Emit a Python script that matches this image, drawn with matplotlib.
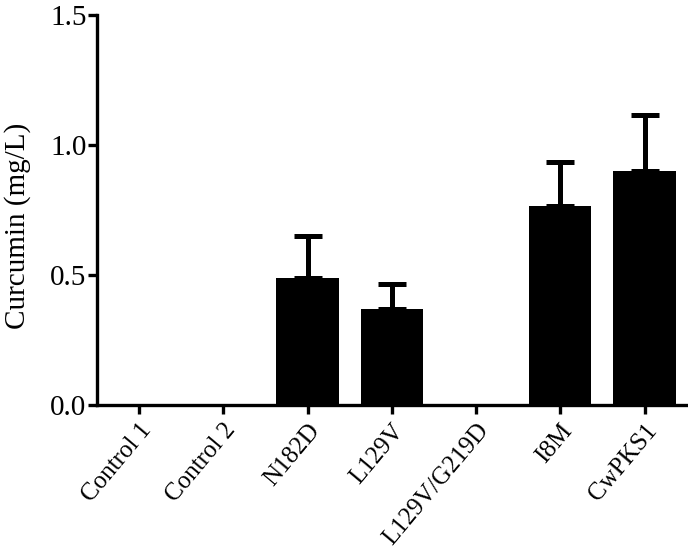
import matplotlib
matplotlib.use("Agg")
import matplotlib.pyplot as plt
import numpy as np

samples = ["Control 1", "Control 2", "N182D", "L129V", "L129V/G219D", "I8M", "CwPKS1"]
curcumin = [0.0, 0.0, 0.487, 0.369, 0.0, 0.763, 0.900]
sd = [0.0, 0.0, 0.163, 0.095, 0.0, 0.169, 0.215]

plt.rcParams['font.family'] = ['Liberation Serif', 'DejaVu Serif']

fig = plt.figure(figsize=(6.88, 5.54), dpi=100)
ax = fig.add_axes([0.141, 0.269, 0.857, 0.7045])

x = np.arange(len(samples))
ax.bar(x, curcumin, width=0.74, color='black', linewidth=0, zorder=2)

has_err = np.array(sd) > 0
ax.errorbar(x[has_err], np.array(curcumin)[has_err],
            yerr=[np.zeros(has_err.sum()), np.array(sd)[has_err]],
            fmt='none', ecolor='black', elinewidth=3.6, capsize=10, capthick=3.6, zorder=3)

ax.set_xlim(-0.5, 6.5)
ax.set_ylim(0, 1.5)
ax.set_yticks([0.0, 0.5, 1.0, 1.5])
ax.set_yticklabels(["0.0", "0.5", "1.0", "1.5"])
ax.set_xticks(x)
ax.set_xticklabels(samples, rotation=50, ha='right', va='top', rotation_mode='anchor')
ax.tick_params(axis='y', labelsize=21, width=2.4, length=6.5, direction='out', pad=1)
ax.tick_params(axis='x', labelsize=18, width=2.4, length=6.5, direction='out', pad=4)
ax.set_ylabel("Curcumin (mg/L)", fontsize=21)
ax.yaxis.set_label_coords(-0.112, 0.46)

for side in ['top', 'right']:
    ax.spines[side].set_visible(False)
for side in ['left', 'bottom']:
    ax.spines[side].set_linewidth(2.4)

fig.savefig("out.png", dpi=100)
